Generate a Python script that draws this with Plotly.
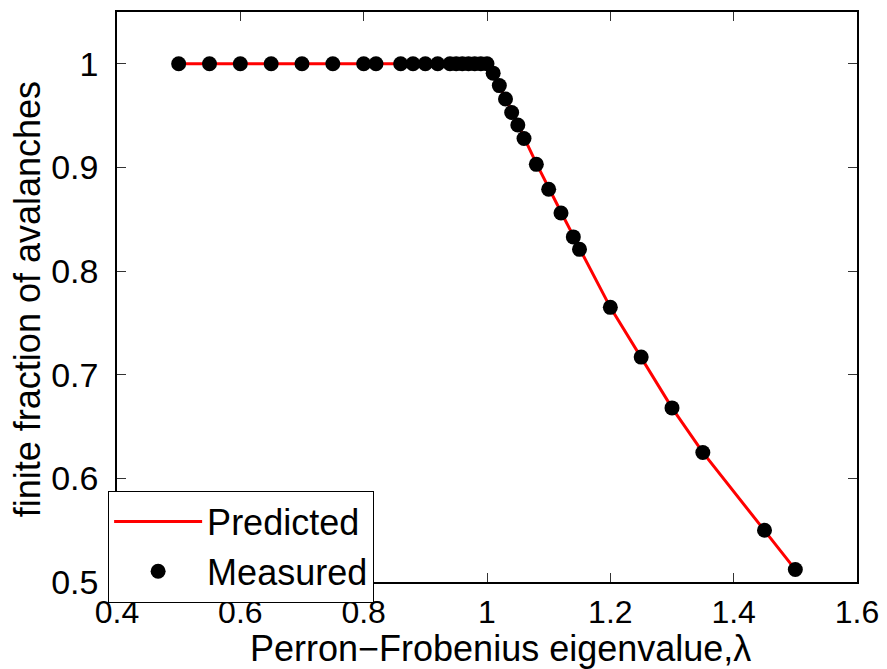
import plotly.graph_objects as go

lam = [0.50, 0.55, 0.60, 0.65, 0.70, 0.75, 0.80, 0.82, 0.86, 0.88, 0.90, 0.92,
       0.94, 0.95, 0.96, 0.97, 0.98, 0.99, 1.00,
       1.01, 1.02, 1.03, 1.04, 1.05, 1.06, 1.08, 1.10, 1.12, 1.14, 1.15,
       1.20, 1.25, 1.30, 1.35, 1.45, 1.50]
measured = [1.0, 1.0, 1.0, 1.0, 1.0, 1.0, 1.0, 1.0, 1.0, 1.0, 1.0, 1.0,
            1.0, 1.0, 1.0, 1.0, 1.0, 1.0, 1.0,
            0.991, 0.979, 0.966, 0.953, 0.941, 0.928, 0.903, 0.879, 0.856, 0.833, 0.821,
            0.765, 0.717, 0.668, 0.625, 0.550, 0.512]
predicted = [1.0, 1.0, 1.0, 1.0, 1.0, 1.0, 1.0, 1.0, 1.0, 1.0, 1.0, 1.0,
             1.0, 1.0, 1.0, 1.0, 1.0, 1.0, 1.0,
             0.990, 0.979, 0.967, 0.954, 0.941, 0.929, 0.904, 0.880, 0.857, 0.834, 0.822,
             0.765, 0.716, 0.668, 0.625, 0.550, 0.512]

xtick_vals = [0.4, 0.6, 0.8, 1.0, 1.2, 1.4, 1.6]
xtick_text = ["0.4", "0.6", "0.8", "1", "1.2", "1.4", "1.6"]
ytick_vals = [0.5, 0.6, 0.7, 0.8, 0.9, 1.0]
ytick_text = ["0.5", "0.6", "0.7", "0.8", "0.9", "1"]
x_title = "Perron\u2212Frobenius eigenvalue,\u03bb"
y_title = "finite fraction of avalanches"

font = "Liberation Sans, Arial, Helvetica, sans-serif"

fig = go.Figure()
fig.add_trace(go.Scatter(x=lam, y=predicted, mode="lines", name="Predicted",
                         line=dict(color="#ff0000", width=3)))
fig.add_trace(go.Scatter(x=lam, y=measured, mode="markers", name="Measured",
                         marker=dict(color="black", size=15)))

axis_common = dict(showgrid=False, zeroline=False, showline=True, linecolor="black",
                   linewidth=1.5, mirror="ticks", ticks="inside", ticklen=9,
                   tickcolor="#333333", tickwidth=1, automargin=False)

# page body has an 8px default margin, so the figure is 8px smaller
fig.update_layout(
    width=879, height=661,
    margin=dict(l=109, r=30, t=4, b=87),
    paper_bgcolor="white", plot_bgcolor="white",
    font=dict(family=font, color="black"),
    xaxis=dict(range=[0.4, 1.6], tickvals=xtick_vals, ticktext=xtick_text,
               ticklabelstandoff=1,
               tickfont=dict(family=font, size=32, color="black"), **axis_common),
    yaxis=dict(range=[0.5, 1.05], tickvals=ytick_vals, ticktext=ytick_text,
               ticklabelstandoff=10,
               tickfont=dict(family=font, size=34, color="black"), **axis_common),
    legend=dict(x=-0.012, y=-0.036, xanchor="left", yanchor="bottom",
                bgcolor="white", bordercolor="black", borderwidth=1,
                font=dict(family=font, size=36, color="black"),
                itemwidth=88, tracegroupgap=0),
    showlegend=True,
    annotations=[
        dict(text=x_title, xref="paper", yref="paper", x=0.5176, y=-0.1158,
             xanchor="center", yanchor="middle", showarrow=False,
             font=dict(family=font, size=36, color="black")),
        dict(text=y_title, xref="paper", yref="paper", x=-0.120, y=0.4965,
             xanchor="center", yanchor="middle", showarrow=False, textangle=-90,
             font=dict(family=font, size=36, color="black")),
    ],
)

fig.write_html("out.html")
